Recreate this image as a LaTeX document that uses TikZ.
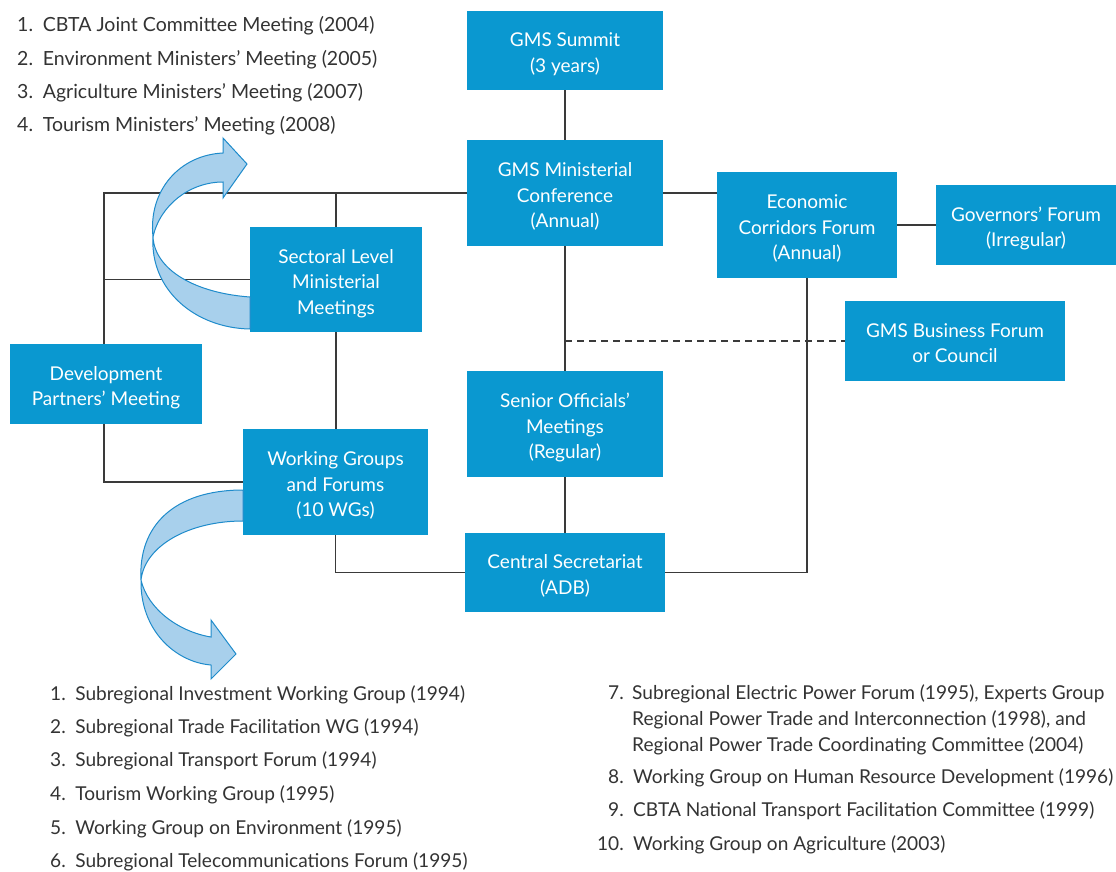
\documentclass[tikz,border=0pt]{standalone}
\usepackage{fontspec}
\setmainfont{Lato}
\definecolor{boxblue}{HTML}{0A98D0}
\definecolor{arrowfill}{HTML}{A8D0EC}
\definecolor{arrowedge}{HTML}{1E8BCB}
\definecolor{linegray}{HTML}{3A3A3A}
\definecolor{textgray}{HTML}{333333}
\newcommand\btx[1]{\raisebox{-4pt}[\height][\depth]{\begin{tabular}{@{}c@{}}#1\end{tabular}}}
\begin{document}
\begin{tikzpicture}[x=1pt,y=-1pt,
  box/.style={fill=boxblue, text=white, inner sep=0pt, font=\fontsize{19}{25.5}\selectfont},
  conn/.style={draw=linegray, line width=1.3pt},
  ribbon/.style={fill=arrowfill, draw=arrowedge, line width=1pt, line join=miter},
  toptxt/.style={anchor=base west, inner sep=0pt, text=textgray, font=\fontsize{19.5}{24}\selectfont},
  listtxt/.style={anchor=base west, inner sep=0pt, text=textgray, font=\fontsize{19.1}{24}\selectfont},
  listnum/.style={anchor=base east, inner sep=0pt, text=textgray, font=\fontsize{19.1}{24}\selectfont}]
\useasboundingbox (0,0) rectangle (1116,871);

% boxes
\node[box, minimum width=196pt, minimum height=79pt] (summit) at (565,50.5) {\btx{GMS Summit\\(3 years)}};
\node[box, minimum width=196pt, minimum height=106pt] (mincon) at (565,193) {\btx{GMS Ministerial\\Conference\\(Annual)}};
\node[box, minimum width=180pt, minimum height=106pt] (ecf) at (807,225) {\btx{Economic\\Corridors Forum\\(Annual)}};
\node[box, minimum width=180pt, minimum height=80pt] (gov) at (1026,225) {\btx{Governors' Forum\\(Irregular)}};
\node[box, minimum width=220pt, minimum height=80pt] (biz) at (955,341) {\btx{GMS Business Forum\\or Council}};
\node[box, minimum width=172pt, minimum height=105pt] (slm) at (336,279.5) {\btx{Sectoral Level\\Ministerial\\Meetings}};
\node[box, minimum width=192pt, minimum height=80pt] (dpm) at (106,384) {\btx{Development\\Partners' Meeting}};
\node[box, minimum width=185pt, minimum height=106pt] (wg) at (335.5,482) {\btx{Working Groups\\and Forums\\(10 WGs)}};
\node[box, minimum width=196pt, minimum height=106pt] (som) at (565,424) {\btx{Senior Officials'\\Meetings\\(Regular)}};
\node[box, minimum width=200pt, minimum height=79pt] (cs) at (565,572.5) {\btx{Central Secretariat\\(ADB)}};

% connectors
\coordinate (lt) at (104,193);
\draw[conn] (summit.south) -- (summit.south |- mincon.north);
\draw[conn] (mincon.south) -- (som.north);
\draw[conn] (som.south) -- (som.south |- cs.north);
\draw[conn] (mincon.east) -- (mincon.east -| ecf.west);
\draw[conn] (ecf.east) -- (ecf.east -| gov.west);
\draw[conn] (mincon.west) -- (lt) -- (lt |- dpm.north);
\draw[conn] (lt |- dpm.south) -- (lt |- wg.west) -- (wg.west);
\draw[conn] (lt |- slm.west) -- (slm.west);
\draw[conn] (slm.north |- lt) -- (slm.north);
\draw[conn] (slm.south) -- (slm.south |- wg.north);
\draw[conn] (wg.south) -- (wg.south |- cs.west) -- (cs.west);
\draw[conn] (cs.east) -- (cs.east -| ecf.south) -- (ecf.south);
\draw[conn, dash pattern=on 7pt off 5pt] (som.north |- biz.west) -- (biz.west);

% ribbon arrows
\draw[ribbon] (250,297) .. controls (195,293) and (155,270) .. (153,237)
  .. controls (148,190) and (180,155) .. (223,153)
  -- (223,138) -- (247,164) -- (223,198) -- (223,182)
  .. controls (190,182) and (160,205) .. (153,237)
  .. controls (150,290) and (195,328) .. (250,329) -- cycle;
\draw[ribbon] (243,490) .. controls (175,490) and (138,525) .. (141,580)
  .. controls (140,630) and (175,662) .. (211,665)
  -- (211,679) -- (236,654) -- (211,620) -- (211,637)
  .. controls (180,632) and (148,610) .. (141,580)
  .. controls (145,545) and (190,521) .. (243,521) -- cycle;

% top list
\node[toptxt] (t1) at (17,31.7) {1.\enspace CBTA Joint Committee Meeting (2004)};
\node[toptxt] (t2) at (17,65) {2.\enspace Environment Ministers' Meeting (2005)};
\node[toptxt] (t3) at (17,98.3) {3.\enspace Agriculture Ministers' Meeting (2007)};
\node[toptxt] (t4) at (17,131.7) {4.\enspace Tourism Ministers' Meeting (2008)};

% bottom left list
\node[listtxt] (b1) at (50,700) {1.\enspace Subregional Investment Working Group (1994)};
\node[listtxt] (b2) at (50,733.3) {2.\enspace Subregional Trade Facilitation WG (1994)};
\node[listtxt] (b3) at (50,766.7) {3.\enspace Subregional Transport Forum (1994)};
\node[listtxt] (b4) at (50,800) {4.\enspace Tourism Working Group (1995)};
\node[listtxt] (b5) at (50,834) {5.\enspace Working Group on Environment (1995)};
\node[listtxt] (b6) at (50,867) {6.\enspace Subregional Telecommunications Forum (1995)};

% bottom right list
\node[listnum] (n7) at (624,699.3) {7.};
\node[listtxt] (r7a) at (632,699.3) {Subregional Electric Power Forum (1995), Experts Group};
\node[listtxt] (r7b) at (632,725) {Regional Power Trade and Interconnection (1998), and};
\node[listtxt] (r7c) at (632,751) {Regional Power Trade Coordinating Committee (2004)};
\node[listnum] (n8) at (624,783.3) {8.};
\node[listtxt] (r8) at (633,783.3) {Working Group on Human Resource Development (1996)};
\node[listnum] (n9) at (624,816.7) {9.};
\node[listtxt] (r9) at (633,816.7) {CBTA National Transport Facilitation Committee (1999)};
\node[listnum] (n10) at (624,850) {10.};
\node[listtxt] (r10) at (633,850) {Working Group on Agriculture (2003)};
\end{tikzpicture}
\end{document}
